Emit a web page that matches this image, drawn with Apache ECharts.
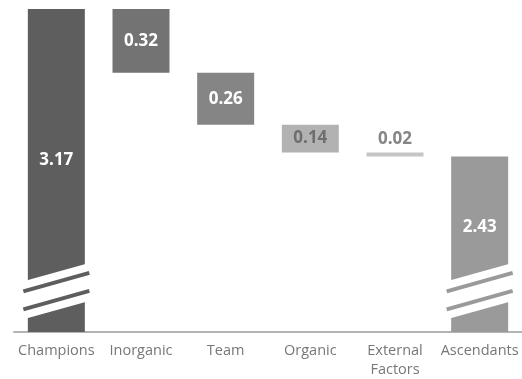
<!DOCTYPE html>
<html lang="en">
<head>
    <meta charset="UTF-8">
    <title>Champions to Ascendants</title>
    <script src="https://cdn.jsdelivr.net/npm/echarts@6/dist/echarts.min.js"></script>
    <style>
        html, body { margin: 0; padding: 0; background: #fff; }
        #chart { width: 522px; height: 379px; }
    </style>
</head>
<body>
<div id="chart"></div>
<script>
    var categories = ['Champions', 'Inorganic', 'Team', 'Organic', 'External\nFactors', 'Ascendants'];
    var startTotal = 3.17;
    var steps = [0.32, 0.26, 0.14, 0.02];
    var endTotal = 2.43;
    var barColors = ['#5e5e5e', '#737373', '#858585', '#b2b2b2', '#c6c6c6', '#9a9a9a'];
    var labelColors = ['#fff', '#fff', '#fff', '#6e6e6e', '#858585', '#fff'];
    var axisMin = 1.55;   // value axis is broken, so the bottom is not zero
    var breakAt = 1.755;  // where the break marks sit on the two total bars
    var breakBars = [0, 5];

    // waterfall: invisible base + visible step
    var baseData = ['-'];
    var valueData = [startTotal];
    var level = startTotal;
    steps.forEach(function (s) {
        level = +(level - s).toFixed(2);
        baseData.push(level);
        valueData.push(s);
    });
    baseData.push('-');
    valueData.push(endTotal);

    var chart = echarts.init(document.getElementById('chart'));

    var visible = valueData.map(function (v, i) {
        var item = {
            value: v,
            itemStyle: { color: barColors[i] },
            label: { color: labelColors[i] }
        };
        if (i === 0) item.label.offset = [0, -10];
        if (i === 5) item.label.offset = [0, -17];
        if (i === 4) item.label.position = 'top';
        return item;
    });

    chart.setOption({
        animation: false,
        grid: { left: 14, right: -4, top: 9, bottom: 46 },
        xAxis: {
            type: 'category',
            data: categories,
            axisLine: { lineStyle: { color: '#b4b4b4', width: 2 } },
            axisTick: { length: 5, lineStyle: { color: '#b4b4b4', width: 2 } },
            axisLabel: {
                color: '#777',
                fontFamily: 'Open Sans',
                fontSize: 14.5,
                lineHeight: 19,
                margin: 9,
                interval: 0
            }
        },
        yAxis: {
            type: 'value',
            min: axisMin,
            max: startTotal,
            show: false
        },
        series: [{
            type: 'bar',
            stack: 'wf',
            data: baseData,
            itemStyle: { color: 'transparent' },
            silent: true
        }, {
            type: 'bar',
            stack: 'wf',
            barWidth: 57,
            data: visible,
            label: {
                show: true,
                position: 'inside',
                fontFamily: 'Open Sans',
                fontWeight: 'bold',
                fontSize: 17,
                formatter: function (p) { return p.value.toFixed(2); }
            }
        }, {
            type: 'custom',
            data: breakBars.map(function (i) { return [i, breakAt]; }),
            z: 5,
            renderItem: function (params, api) {
                var idx = api.value(0);
                var c = api.coord([idx, api.value(1)]);
                var cx = c[0], cy = c[1];
                var s = 0.28;
                var col = barColors[idx];
                function pt(dx, off) { return [cx + dx, cy + off - s * dx]; }
                return {
                    type: 'group',
                    children: [{
                        type: 'polygon',
                        shape: { points: [pt(-31, -19), pt(31, -19), pt(31, 19), pt(-31, 19)] },
                        style: { fill: '#fff' }
                    }, {
                        type: 'line',
                        shape: { x1: pt(-33, -9)[0], y1: pt(-33, -9)[1], x2: pt(33, -9)[0], y2: pt(33, -9)[1] },
                        style: { stroke: col, lineWidth: 4 }
                    }, {
                        type: 'line',
                        shape: { x1: pt(-33, 9)[0], y1: pt(-33, 9)[1], x2: pt(33, 9)[0], y2: pt(33, 9)[1] },
                        style: { stroke: col, lineWidth: 4 }
                    }]
                };
            }
        }]
    });
</script>
</body>
</html>
